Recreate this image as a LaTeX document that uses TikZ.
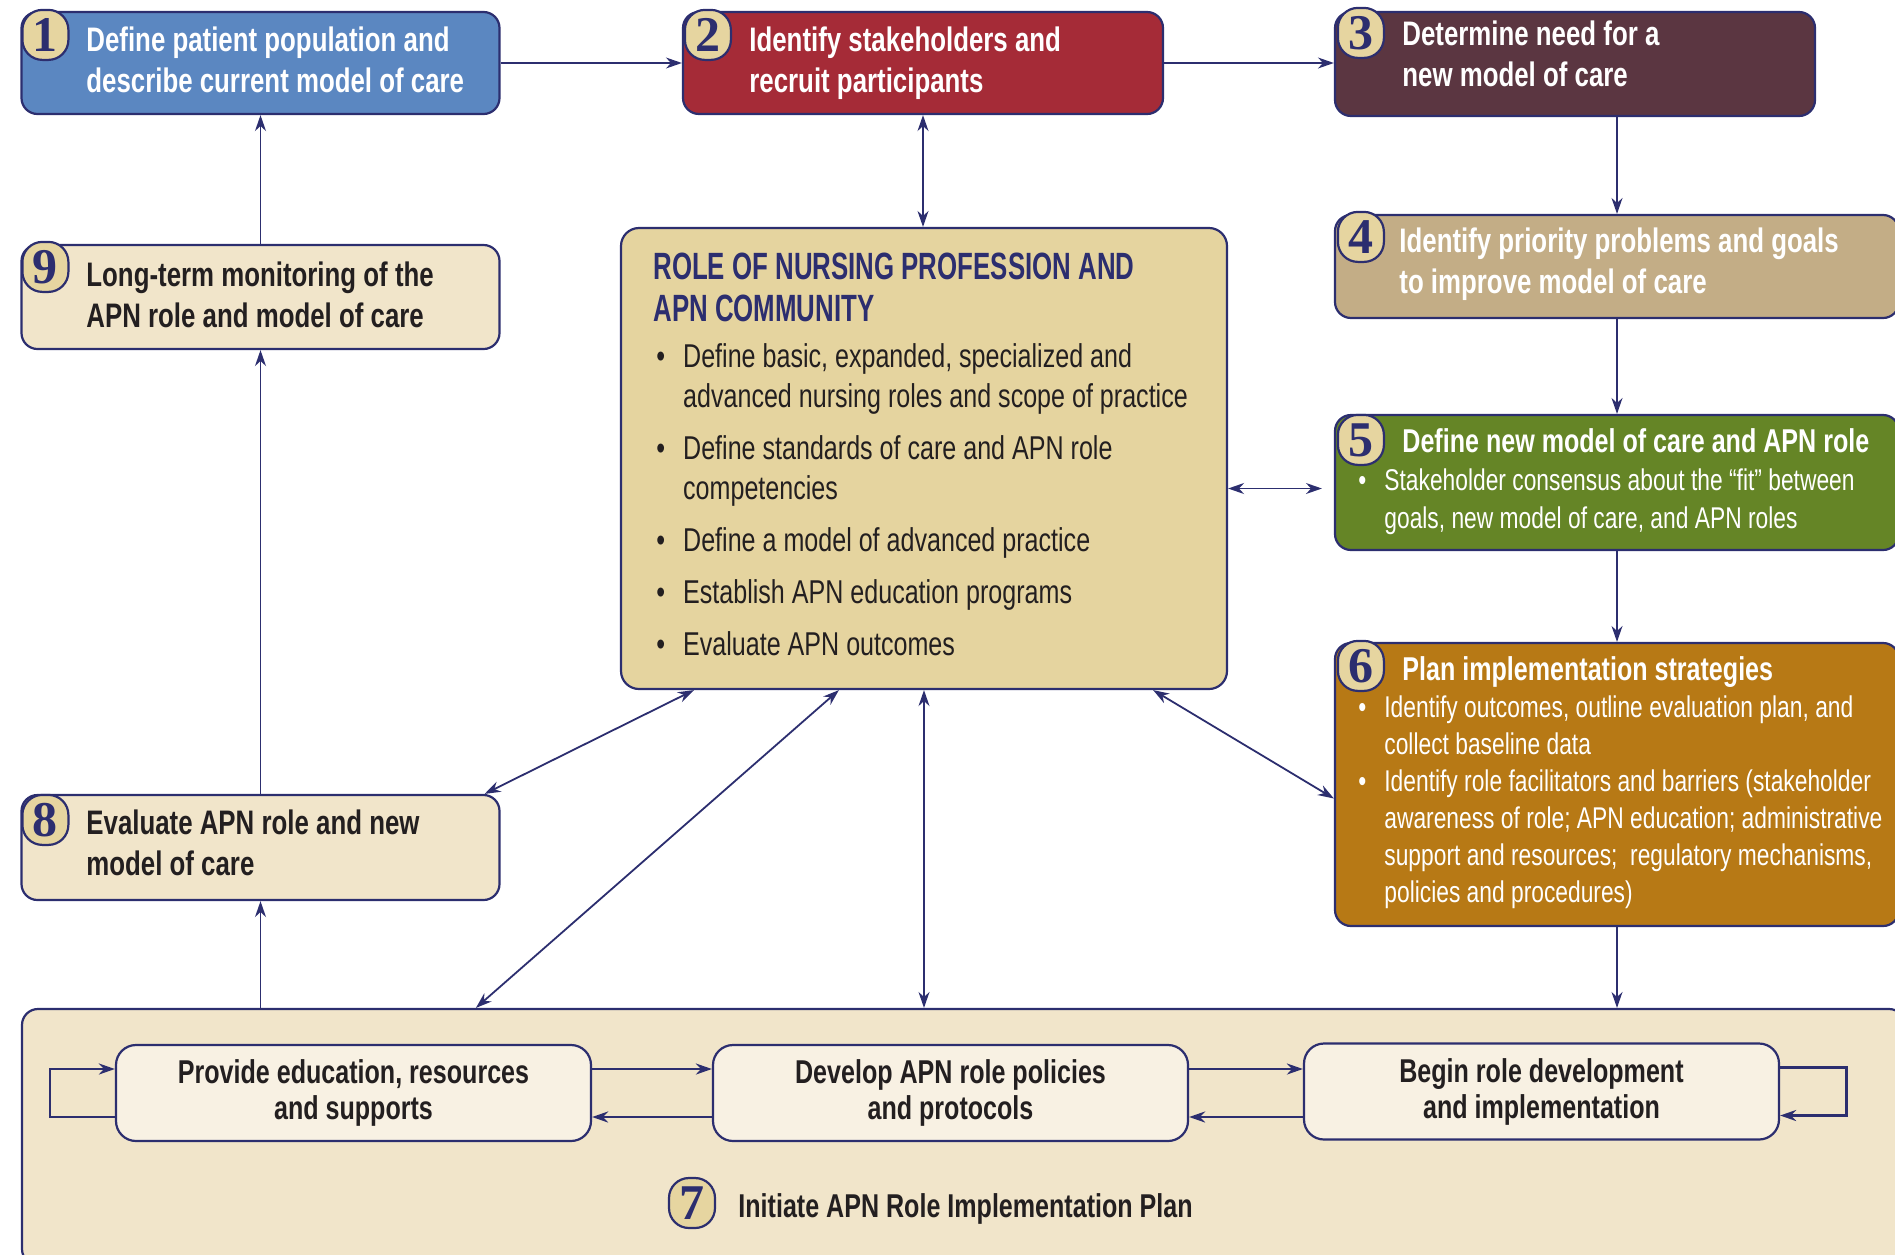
\documentclass[tikz,border=0pt]{standalone}
\usepackage{fontspec}
\usetikzlibrary{arrows.meta}

\newfontfamily\condfont{Liberation Sans}[FakeStretch=0.76]
\newfontfamily\headfont{Liberation Sans}[FakeStretch=0.68]
\newfontfamily\tagfont{Liberation Serif}

\definecolor{boxblue}{HTML}{5B87C1}
\definecolor{boxred}{HTML}{A52B37}
\definecolor{boxplum}{HTML}{5B3641}
\definecolor{boxtan}{HTML}{C3AD86}
\definecolor{boxgreen}{HTML}{658526}
\definecolor{boxochre}{HTML}{B77915}
\definecolor{rolefill}{HTML}{E5D49F}
\definecolor{palefill}{HTML}{F1E5CA}
\definecolor{subfill}{HTML}{F8F1E3}
\definecolor{tagfill}{HTML}{E6D5A0}
\definecolor{apnnavy}{HTML}{2C2E6F}
\definecolor{apnink}{HTML}{231F20}

\newcommand{\boxlines}[1]{\begin{tabular}[t]{@{}l@{}}#1\end{tabular}}
\newcommand{\bulletlist}[1]{\begin{tabular}[t]{@{}l@{\hspace{9pt}}l@{}}#1\end{tabular}}

\tikzset{
  stepbox/.style={draw=apnnavy, line width=1.1pt, rounded corners=8pt, inner sep=0pt},
  substep/.style={stepbox, fill=subfill, rounded corners=10pt, minimum width=237.5pt, minimum height=48pt,
    align=center, text=apnink, font=\condfont\bfseries\fontsize{16.5}{18}\selectfont},
  numtag/.style={draw=apnnavy, line width=1.1pt, fill=tagfill, rounded corners=10pt,
    minimum width=23pt, minimum height=25pt, inner sep=0pt, text=apnnavy,
    font=\tagfont\bfseries\fontsize{25}{25}\selectfont},
  whitetitle/.style={anchor=base west, inner sep=0pt, text=white,
    font=\condfont\bfseries\fontsize{17}{20.5}\selectfont},
  darktitle/.style={whitetitle, text=apnink},
  bodytext/.style={anchor=base west, inner sep=0pt, text=white,
    font=\condfont\fontsize{15}{19}\selectfont},
  link/.style={draw=apnnavy, line width=0.9pt, -{Stealth[length=8pt,width=5.5pt]}},
  dlink/.style={link, {Stealth[length=8pt,width=5.5pt]}-{Stealth[length=8pt,width=5.5pt]}},
  loopline/.style={link, line width=1.4pt}
}

\begin{document}
\begin{tikzpicture}[x=0.5pt,y=-0.5pt]
\clip (0,0) rectangle (1895,1254);

\node[stepbox, fill=boxblue, minimum width=239pt, minimum height=51pt] (b1) at (260.5,63) {};
\node[stepbox, fill=boxred, minimum width=240pt, minimum height=51pt] (b2) at (923,63) {};
\node[stepbox, fill=boxplum, minimum width=240pt, minimum height=52pt] (b3) at (1575,64) {};
\node[stepbox, fill=boxtan, minimum width=282pt, minimum height=51.5pt] (b4) at (1617,266.5) {};
\node[stepbox, fill=boxgreen, minimum width=282pt, minimum height=67.5pt] (b5) at (1617,482.5) {};
\node[stepbox, fill=boxochre, minimum width=282pt, minimum height=141.5pt] (b6) at (1617,784.5) {};
\node[stepbox, fill=palefill, minimum width=941.5pt, minimum height=128pt] (b7) at (963.5,1137) {};
\node[stepbox, fill=palefill, minimum width=239pt, minimum height=52.5pt] (b8) at (260.5,847.5) {};
\node[stepbox, fill=palefill, minimum width=239pt, minimum height=52pt] (b9) at (260.5,297) {};
\node[stepbox, fill=rolefill, rounded corners=9pt, minimum width=303pt, minimum height=230.5pt] (c) at (924,458.5) {};

\node[substep] (p1) at (353.5,1093) {Provide education, resources\\and supports};
\node[substep] (p2) at (950.5,1093) {Develop APN role policies\\and protocols};
\node[substep] (p3) at (1541.5,1091.5) {Begin role development\\and implementation};

\node[whitetitle] (t1) at (86,51) {\boxlines{Define patient population and\\describe current model of care}};
\node[whitetitle] (t2) at (749,51) {\boxlines{Identify stakeholders and\\recruit participants}};
\node[whitetitle] (t3) at (1402,45) {\boxlines{Determine need for a\\new model of care}};
\node[whitetitle] (t4) at (1399,252) {\boxlines{Identify priority problems and goals\\to improve model of care}};
\node[whitetitle, font=\condfont\bfseries\fontsize{16.5}{20}\selectfont] (t5) at (1402,452) {Define new model of care and APN role};
\node[bodytext] (s5) at (1358,490) {\bulletlist{• & Stakeholder consensus about the “fit” between\\ & goals, new model of care, and APN roles}};
\node[whitetitle, font=\condfont\bfseries\fontsize{16.5}{20}\selectfont] (t6) at (1402,680) {Plan implementation strategies};
\node[bodytext, font=\condfont\fontsize{15}{18.5}\selectfont] (s6) at (1358,717) {\bulletlist{• & Identify outcomes, outline evaluation plan, and\\ & collect baseline data\\ • & Identify role facilitators and barriers (stakeholder\\ & awareness of role; APN education; administrative\\ & support and resources;\ \ regulatory mechanisms,\\ & policies and procedures)}};
\node[darktitle] (t8) at (86,834) {\boxlines{Evaluate APN role and new\\model of care}};
\node[darktitle] (t9) at (86,286) {\boxlines{Long-term monitoring of the\\APN role and model of care}};
\node[darktitle, font=\condfont\bfseries\fontsize{16.5}{18}\selectfont] (t7) at (738,1217) {Initiate APN Role Implementation Plan};

\node[anchor=base west, inner sep=0pt, text=apnnavy, font=\headfont\bfseries\fontsize{19}{21}\selectfont] (ctitle) at (653,279) {\boxlines{ROLE OF NURSING PROFESSION AND\\APN COMMUNITY}};
\node[bodytext, text=apnink, font=\condfont\fontsize{16.5}{20}\selectfont] (cbody) at (656,367) {\bulletlist{• & Define basic, expanded, specialized and\\ & advanced nursing roles and scope of practice\\[6pt] • & Define standards of care and APN role\\ & competencies\\[6pt] • & Define a model of advanced practice\\[6pt] • & Establish APN education programs\\[6pt] • & Evaluate APN outcomes}};

\draw[link] (b1.east) -- (b2.west);
\draw[link] (b2.east) -- (b2.east -| b3.west);
\draw[link] (b3.south -| b4.north) -- (b4.north);
\draw[link] (b4.south) -- (b5.north);
\draw[link] (b5.south) -- (b6.north);
\draw[link] (b6.south) -- (b6.south |- b7.north);
\draw[link] (b7.north -| b8.south) -- (b8.south);
\draw[link] (b8.north) -- (b9.south);
\draw[link] (b9.north) -- (b1.south);
\draw[dlink] (b2.south) -- (b2.south |- c.north);
\draw[dlink, shorten >=6pt] ([yshift=-3pt]c.east |- b5.west) -- ([yshift=-3pt]b5.west);
\draw[dlink] ([xshift=-37.5pt]c.south east) -- ([yshift=-7pt]b6.west);
\draw[dlink] (c.south) -- (c.south |- b7.north);
\draw[dlink] ([xshift=109.5pt]c.south west) -- ([xshift=227.5pt]b7.north west);
\draw[dlink] ([xshift=37pt]c.south west) -- ([xshift=-8pt]b8.north east);

\draw[loopline] ([yshift=12pt]p1.east) -- ([yshift=12pt]p2.west);
\draw[loopline] ([yshift=-12pt]p2.west) -- ([yshift=-12pt]p1.east);
\draw[loopline] ([yshift=12pt]p2.east) -- ([yshift=12pt]p2.east -| p3.west);
\draw[loopline] ([yshift=-12pt]p2.east -| p3.west) -- ([yshift=-12pt]p2.east);
\draw[loopline] ([yshift=-12pt]p1.west) -- ++(-32.5pt,0) |- ([yshift=12pt]p1.west);
\draw[loopline] ([yshift=12pt]p3.east) -- ++(33pt,0) |- ([yshift=-12pt]p3.east);

\node[numtag] (n1) at ([xshift=12.5pt,yshift=-12pt]b1.north west) {1};
\node[numtag] (n2) at ([xshift=13pt,yshift=-12pt]b2.north west) {2};
\node[numtag] (n3) at ([xshift=13.5pt,yshift=-11pt]b3.north west) {3};
\node[numtag] (n4) at ([xshift=13.5pt,yshift=-11.5pt]b4.north west) {4};
\node[numtag] (n5) at ([xshift=13.5pt,yshift=-13pt]b5.north west) {5};
\node[numtag] (n6) at ([xshift=13.5pt,yshift=-12pt]b6.north west) {6};
\node[numtag] (n7) at (692,1203) {7};
\node[numtag] (n8) at ([xshift=12.5pt,yshift=-13pt]b8.north west) {8};
\node[numtag] (n9) at ([xshift=12.5pt,yshift=-11.5pt]b9.north west) {9};
\end{tikzpicture}
\end{document}
